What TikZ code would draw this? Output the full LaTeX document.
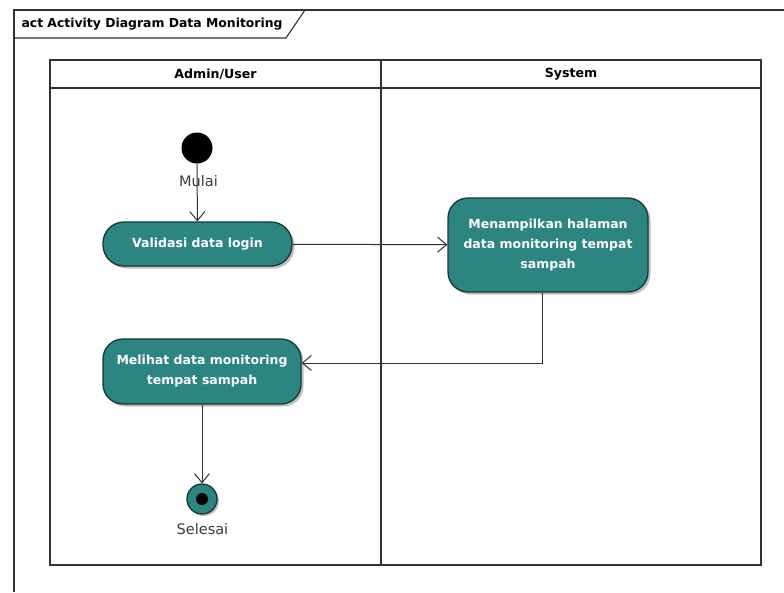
\documentclass[tikz,border=0pt]{standalone}
\usepackage{fontspec}
\setmainfont{DejaVu Sans}
\usetikzlibrary{arrows.meta,shadows}
\definecolor{actfill}{RGB}{44,133,129}
\definecolor{actedge}{RGB}{22,55,55}
\definecolor{lane}{RGB}{50,50,50}
\definecolor{labeltxt}{RGB}{60,60,60}
\begin{document}
\begin{tikzpicture}[x=1pt,y=-1pt,
  frameline/.style={draw=lane, line width=1.1pt},
  laneline/.style={draw=lane, line width=1.5pt},
  action/.style={draw=actedge, line width=1.3pt, fill=actfill, text=white,
    font=\bfseries\fontsize{12.5}{20}\selectfont, align=center, inner sep=0pt,
    drop shadow={shadow xshift=2.5pt, shadow yshift=-2.5pt, opacity=0.25, fill=black}},
  flow/.style={draw=lane, line width=1pt, -{Straight Barb[length=9pt,width=15pt,line width=1pt]}},
  lanehead/.style={font=\bfseries\fontsize{12.6}{15}\selectfont, text=black},
  caption/.style={font=\fontsize{14.5}{16}\selectfont, text=labeltxt}]
\useasboundingbox (0,0) rectangle (784,592);
\fill[white] (0,0) rectangle (784,592);

% diagram frame with its name tab
\draw[frameline] (14,592) -- (14,10) -- (784,10);
\draw[frameline] (14,38) -- (286,38) -- (305,10);
\node[anchor=west, font=\bfseries\fontsize{12.4}{15}\selectfont] (title) at (18,24) {act Activity Diagram Data Monitoring};

% swimlanes
\draw[laneline] (50,60) rectangle (761,565);
\draw[laneline] (50,88) -- (761,88);
\draw[laneline] (381,60) -- (381,565);
\node[lanehead] (laneA) at (215.5,74) {Admin/User};
\node[lanehead] (laneB) at (571,74) {System};

% initial node
\node[circle, fill=black, minimum size=31pt, inner sep=0pt] (start) at (197,148) {};

% actions
\node[action, rounded corners=21pt, minimum width=189pt, minimum height=44pt] (validasi) at (197.5,244) {Validasi data login};
\node[action, rounded corners=20pt, minimum width=200pt, minimum height=94pt] (tampil) at (548,245) {Menampilkan halaman\\data monitoring tempat\\sampah};
\node[action, rounded corners=20pt, minimum width=198pt, minimum height=65pt] (melihat) at (202,371.5) {Melihat data monitoring\\tempat sampah};

% final node
\node[circle, draw=actedge, line width=1.3pt, fill=actfill, minimum size=30pt, inner sep=0pt,
  drop shadow={shadow xshift=2pt, shadow yshift=-2pt, opacity=0.25, fill=black}] (finish) at (202,499) {};
\fill[black] (finish.center) circle (6pt);

% control flows
\draw[flow] (start) -- (validasi);
\draw[flow] (validasi) -- (tampil);
\draw[flow] ([xshift=-6pt]tampil.south) |- ([yshift=8.5pt]melihat.east);
\draw[flow] (melihat) -- (finish);

% node captions
\node[caption] (mulai) at (198.5,181) {Mulai};
\node[caption] (selesai) at (202.5,529) {Selesai};
\end{tikzpicture}
\end{document}
